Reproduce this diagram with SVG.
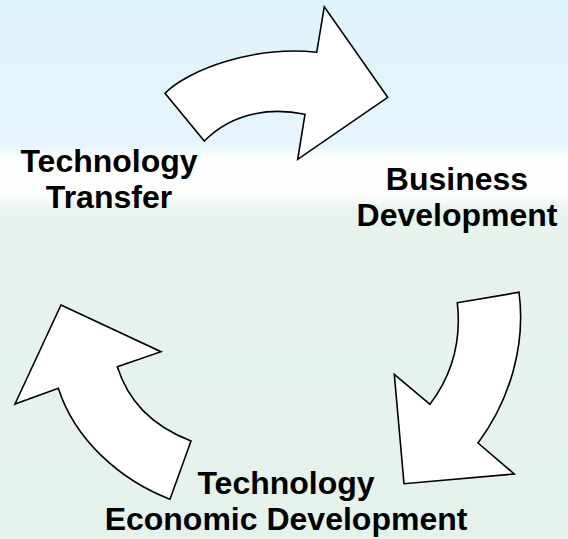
<svg xmlns="http://www.w3.org/2000/svg" width="568" height="539" viewBox="0 0 568 539">
  <defs>
    <linearGradient id="bg" x1="0" y1="0" x2="0" y2="539" gradientUnits="userSpaceOnUse">
      <stop offset="0" stop-color="#dff3fb"/>
      <stop offset="0.27" stop-color="#e6f5fb"/>
      <stop offset="0.295" stop-color="#ffffff"/>
      <stop offset="0.365" stop-color="#fbfdfc"/>
      <stop offset="0.39" stop-color="#e8f3ee"/>
      <stop offset="1" stop-color="#e5f1eb"/>
    </linearGradient>
  </defs>
  <style>
    .arrow { fill: #ffffff; stroke: #000000; stroke-width: 1.6; stroke-linejoin: miter; }
    .lbl { font-family: "Liberation Sans", Arial, sans-serif; font-weight: bold; font-size: 32px; fill: #000000; text-anchor: middle; }
  </style>
  <rect x="0" y="0" width="568" height="539" fill="url(#bg)"/>
  <g id="connectors">
    <path id="arrow-top" class="arrow" d="M165,93.3 C188,70 255,45 316.7,52.3 L324.3,6.7 L387.7,97.3 L297.7,159.3 L305,114.3 C275,108 235,110 204.3,141 Z"/>
    <path id="arrow-right" class="arrow" d="M457.3,302.7 L519,292.3 C526,345 510,400 478,443 L514.3,474 L404,483.7 L394.3,374.3 L430,404.3 C450,378 462,345 457.3,302.7 Z"/>
    <path id="arrow-left" class="arrow" d="M61,305 L161,351.7 L117.3,366.7 C128,400 150,425 191,441 L170,499.3 C120,480 75,440 58.3,388.3 L15,404 Z"/>
  </g>
  <g id="node-technology-transfer">
    <text class="lbl" x="109" y="172">Technology</text>
    <text class="lbl" x="109" y="208">Transfer</text>
  </g>
  <g id="node-business-development">
    <text class="lbl" x="457" y="190">Business</text>
    <text class="lbl" x="457" y="226">Development</text>
  </g>
  <g id="node-technology-economic-development">
    <text class="lbl" x="286" y="494">Technology</text>
    <text class="lbl" x="286" y="530">Economic Development</text>
  </g>
</svg>
